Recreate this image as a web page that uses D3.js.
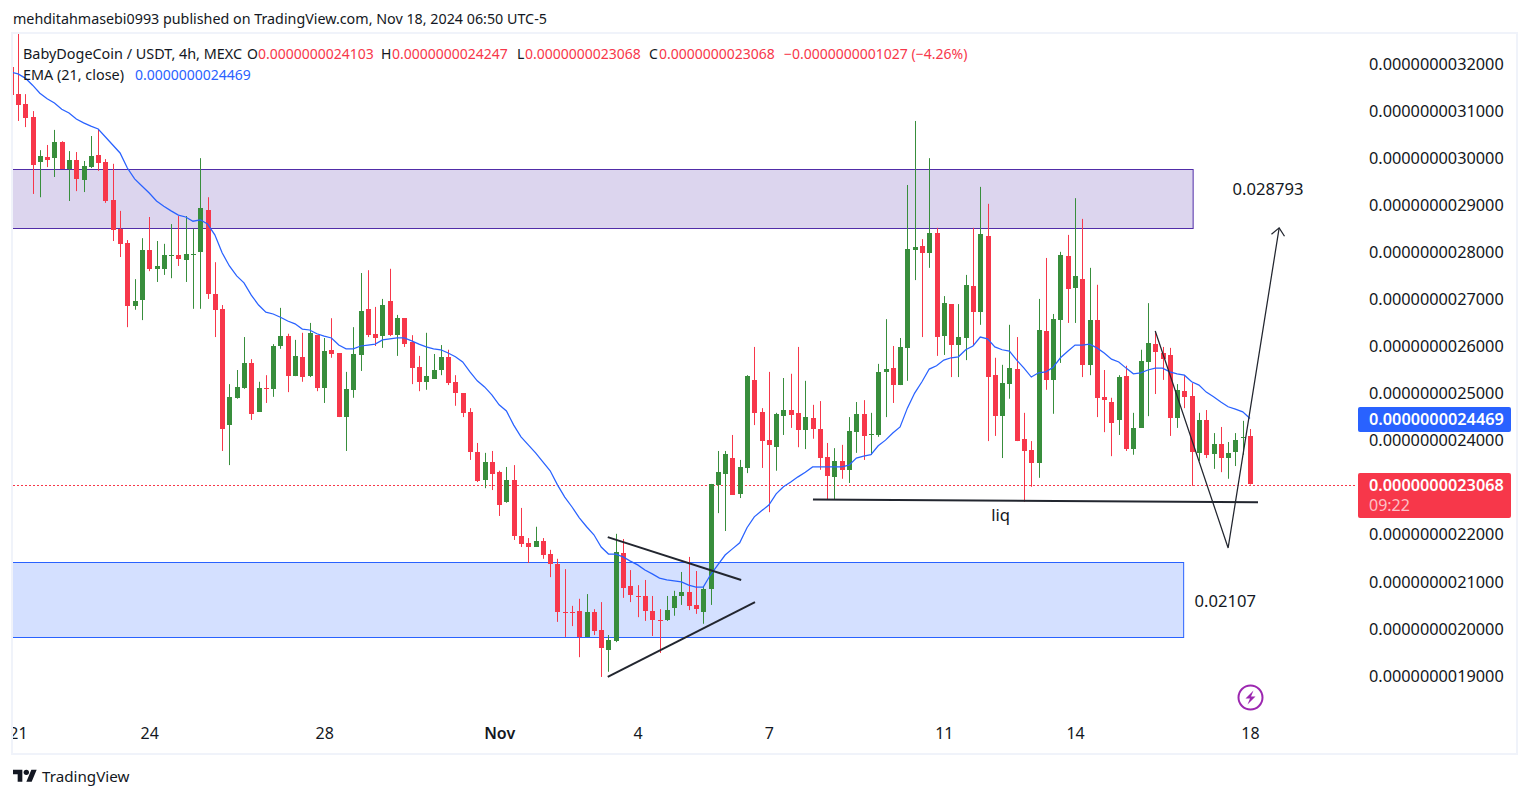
<!DOCTYPE html>
<html>
<head>
<meta charset="utf-8">
<script src="https://cdn.jsdelivr.net/npm/d3@7"></script>
<style>
html, body { margin: 0; padding: 0; background: #fff; }
svg { display: block; }
text { font-family: "Noto Sans", sans-serif; fill: #131722; }
</style>
</head>
<body>
<div id="chart"></div>
<script>
// prices are in units of 1e-13 USDT, [open, high, low, close], first bar is cut off by the pane edge
var candles = [
[31940,31940,31340,31340],
[31360,32640,30790,31130],[31150,31360,30660,30850],[30870,31000,29240,29850],[29920,30170,29170,30050],[30030,30280,29810,29960],
[30000,30600,29600,30340],[30340,30360,29770,29770],[29770,30150,29090,29960],[29960,30130,29300,29560],[29540,29940,29280,29830],
[29810,30470,29790,30050],[30070,30620,29730,29900],[29920,29980,29050,29090],[29110,29880,28240,28470],[28500,28880,27900,28180],
[28200,28260,26410,26860],[26860,27430,26780,26970],[26990,28300,26560,28050],[28050,28750,27600,27650],[27650,28240,27370,27710],
[27650,28180,27520,27940],[27920,28600,27450,27940],[27940,28770,27710,27860],[27840,28770,27370,27960],[27940,28500,26800,27960],
[28010,30000,26800,28940],[28900,29170,27010,27110],[27110,27790,26200,26780],[26800,26880,23780,24250],[24330,25200,23480,24930],
[24910,25500,24890,25140],[25120,26200,25100,25650],[25650,25730,24440,24570],[24610,25250,24610,25120],[25120,25390,24800,25100],
[25100,26050,24930,26010],[26010,26820,25950,26220],[26220,26270,25030,25370],[25370,26140,25370,25800],[25780,26290,25250,25350],
[25370,26500,25350,26290],[26240,26240,25050,25120],[25120,26180,24800,25900],[25930,26600,25760,25840],[25860,25860,24500,24500],
[24500,25460,23780,25100],[25080,26410,24910,25840],[25820,27560,25480,26750],[26800,27620,26200,26240],[26270,26840,26010,26180],
[26220,27010,25970,26880],[26970,27650,26220,26240],[26240,26670,25800,26600],[26600,26600,25990,26050],[26100,26240,25200,25540],
[25560,25800,25050,25250],[25250,26290,25080,25370],[25310,25840,25310,25500],[25500,26030,25390,25780],[25780,25930,25180,25220],
[25250,25390,24740,25010],[25010,25010,24500,24590],[24610,24690,23590,23760],[23760,23950,23120,23140],[23160,23740,22990,23550],
[23550,23780,22950,23290],[23330,23360,22400,22630],[22700,23440,22680,23160],[23160,23480,21890,21970],[21970,22570,21740,21800],
[21830,21930,21400,21740],[21740,22170,21740,21870],[21870,21930,21490,21570],[21590,21680,21100,21380],[21380,21490,20150,20360],
[20360,21270,19830,20340],[20360,20490,20060,20340],[20380,20640,19400,19830],[19830,20740,19830,20360],[20360,20420,19870,19960],
[19980,20570,18980,19600],[19550,19870,19090,19770],[19740,22020,19720,21640],[21610,21910,20660,20870],[20910,21250,20570,20720],
[20700,20930,20250,20680],[20700,21040,20170,20380],[20380,20700,19850,20190],[20190,20420,19490,20170],[20190,20700,20170,20400],
[20450,20810,20280,20700],[20700,21210,20510,20790],[20790,21530,20400,20490],[20510,21230,20320,20420],[20360,20910,20110,20850],
[20850,23080,20510,23080],[23060,23780,22460,23330],[23290,23780,22080,23720],[23630,24120,22850,22850],[22870,23590,22780,23440],
[23420,25390,23310,25370],[25290,25990,24330,24590],[24610,24690,23420,23990],[24010,25460,22480,23910],[23860,24590,23360,24570],
[24520,25330,24120,24650],[24650,25420,24270,24540],[24590,25990,23860,24230],[24230,25270,23820,24500],[24480,24760,24040,24250],
[24250,24840,23380,23630],[23650,23950,22740,23250],[23230,23840,22740,23570],[23570,23910,23190,23380],[23380,24500,23100,24200],
[24180,24820,23740,24570],[24570,24860,23590,24100],[24120,24590,23700,24140],[24120,25630,24080,25460],[25460,26580,24500,25520],
[25540,26010,24800,25180],[25180,26180,25180,25990],[25970,29430,25270,28070],[28050,30790,27410,28110],[28130,28280,26200,27990],
[27990,30000,27670,28410],[28410,28520,25800,26200],[26220,27070,25820,26920],[26900,26900,25350,26030],[26030,26900,25350,26200],
[26180,27520,25710,27310],[27290,28520,26030,26730],[26730,29390,26460,28390],[28350,29030,23990,25350],[25390,25760,24100,24520],
[24520,25610,23630,25220],[25200,26460,24890,25540],[25520,26200,23990,23990],[24040,24590,22700,23780],[23800,23990,23020,23530],
[23530,27010,23210,26350],[26330,27880,25080,25290],[25290,26690,24570,26580],[26560,28010,25650,27940],[27920,28370,26500,27220],
[27240,29150,26500,27500],[27430,28710,25350,25610],[25610,27670,25390,26560],[26560,27310,24500,24910],[24930,25500,24180,24860],
[24820,24910,23670,24380],[24440,25390,24120,25350],[25370,25590,23780,23820],[23820,24590,23700,24270],[24270,25930,24270,25690],
[25670,26920,24520,26070],[26050,26330,24990,25880],[25860,25990,25290,25730],[25820,25970,24100,24480],[24480,25200,24270,25080],
[25050,25370,24690,24930],[24950,25220,23040,23760],[23740,24590,23570,24440],[24440,24650,23630,23700],[23720,24160,23400,23930],
[23930,24290,23330,23630],[23630,23970,23190,23740],[23760,24160,23460,24010],[24060,24420,23700,24080],[24103,24247,23068,23068]
];

var ema = [
31830,31790,31700,31550,31380,31260,31170,31040,30960,30830,30750,30680,30620,30450,30280,30110,29790,29560,29410,29260,29090,
28980,28880,28790,28750,28660,28690,28600,28370,27990,27710,27500,27350,27090,26880,26730,26690,26620,26540,26480,26370,26350,
26270,26220,26180,26030,25950,25950,26010,26030,26050,26140,26160,26180,26180,26120,26050,25990,25950,25930,25860,25780,25670,
25460,25270,25140,24970,24760,24630,24330,24080,23910,23740,23550,23360,23060,22800,22590,22360,22170,22000,21740,21590,21590,
21530,21440,21360,21250,21170,21080,21040,21020,21000,20930,20890,20890,21150,21360,21570,21700,21830,22150,22380,22510,22630,
22870,23020,23120,23230,23330,23440,23440,23440,23440,23440,23480,23630,23670,23700,23890,24010,24160,24290,24690,25010,25250,
25520,25590,25710,25760,25780,25930,26010,26200,26160,25990,25930,25900,25710,25540,25350,25440,25460,25560,25760,25900,26030,
26030,26050,25970,25860,25730,25670,25540,25420,25440,25500,25540,25540,25460,25420,25390,25250,25180,25030,24930,24820,24720,
24670,24610,24469
];

var priceTicks = [32000,31000,30000,29000,28000,27000,26000,25000,24000,22000,21000,20000,19000];
var dayTicks = [0,18,42,66,85,103,127,145,169];
var dayLabels = ["21","24","28","Nov","4","7","11","14","18"];

// drawings, as [bar, price]
var purpleZone = {from: -5, to: 161.2, top: 29760, bottom: 28510};
var blueZone = {from: -5, to: 159.9, top: 21420, bottom: 19830};
var upperLine = [[80.9,21950],[99.2,21040]];
var lowerLine = [[80.9,18980],[101.1,20570]];
var liqLine = [[109.05,22750],[170.1,22690]];
var zigzag = [[156,26330],[166,21720],[173,28520]];
var notes = [
	{text: "0.028793", bar: 166.6, price: 29210},
	{text: "0.02107", bar: 161.4, price: 20470},
	{text: "liq", bar: 133.5, price: 22290}
];

var lastPrice = 23068, lastEma = 24469;
var up = "#388e3c", down = "#f7374a", blue = "#2962ff", ink = "#131722", pen = "#22262f";

var width = 1530, height = 798;
var pane = {left: 13, right: 1516, top: 34, bottom: 753};

var svg = d3.select("#chart").append("svg")
	.attr("width", width)
	.attr("height", height)
	.style("background", "#fff");

var x = d3.scaleLinear().domain([0, 169]).range([18, 1250]),
	y = d3.scaleLinear().domain([19000, 32000]).range([676, 64]);

svg.append("clipPath").attr("id", "pane")
	.append("rect")
	.attr("x", pane.left)
	.attr("y", pane.top)
	.attr("width", pane.right - pane.left)
	.attr("height", pane.bottom - pane.top);

function fmt(p){ return (p * 1e-13).toFixed(13); }

// frame
svg.append("rect")
	.attr("x", pane.left - 1)
	.attr("y", pane.top - 1)
	.attr("width", pane.right - pane.left + 2)
	.attr("height", pane.bottom - pane.top + 2)
	.attr("fill", "none")
	.attr("stroke", "#f0f3fa")
	.attr("stroke-width", 2);

var plot = svg.append("g").attr("clip-path", "url(#pane)");

function drawZone(z, stroke, fill){
	plot.append("rect")
		.attr("x", x(z.from))
		.attr("y", Math.round(y(z.top)) + 0.5)
		.attr("width", x(z.to) - x(z.from))
		.attr("height", Math.round(y(z.bottom)) - Math.round(y(z.top)))
		.attr("fill", fill)
		.attr("stroke", stroke);
}
drawZone(purpleZone, "#512da8", "rgba(81,45,168,0.2)");
drawZone(blueZone, "#2962ff", "rgba(41,98,255,0.2)");

// last price dotted line
plot.append("line")
	.attr("x1", pane.left)
	.attr("x2", 1356)
	.attr("y1", Math.ceil(y(lastPrice)) + 0.5)
	.attr("y2", Math.ceil(y(lastPrice)) + 0.5)
	.attr("stroke", down)
	.attr("stroke-dasharray", "2,2");

// candles
var bars = plot.append("g").selectAll("g")
	.data(candles).enter()
	.append("g")
	.attr("fill", function(d){ return d[3] >= d[0] ? up : down; });

bars.append("rect")
	.attr("x", function(d, i){ return Math.round(x(i - 1)); })
	.attr("y", function(d){ return y(d[1]); })
	.attr("width", 1)
	.attr("height", function(d){ return y(d[2]) - y(d[1]); });

bars.append("rect")
	.attr("x", function(d, i){ return Math.round(x(i - 1)) - 2; })
	.attr("y", function(d){ return Math.round(y(Math.max(d[0], d[3]))); })
	.attr("width", 5)
	.attr("height", function(d){ return Math.max(1, Math.round(y(Math.min(d[0], d[3]))) - Math.round(y(Math.max(d[0], d[3])))); });

// EMA
var emaLine = d3.line()
	.x(function(d, i){ return x(i - 1); })
	.y(function(d){ return y(d); });

plot.append("path")
	.attr("d", emaLine(ema))
	.attr("fill", "none")
	.attr("stroke", blue)
	.attr("stroke-width", 1.25);

// hand drawn lines
var drawn = d3.line()
	.x(function(d){ return x(d[0]); })
	.y(function(d){ return y(d[1]); });

[upperLine, lowerLine, liqLine].forEach(function(l){
	plot.append("path")
		.attr("d", drawn(l))
		.attr("fill", "none")
		.attr("stroke", pen)
		.attr("stroke-width", 2);
});

plot.append("path")
	.attr("d", drawn(zigzag))
	.attr("fill", "none")
	.attr("stroke", pen)
	.attr("stroke-width", 1.25);

// arrow head on the last zigzag point
var tip = zigzag[2], prev = zigzag[1];
var ang = Math.atan2(y(tip[1]) - y(prev[1]), x(tip[0]) - x(prev[0]));
var arm = 10, spread = 0.72;
plot.append("path")
	.attr("d", "M" + (x(tip[0]) + arm * Math.cos(ang + Math.PI - spread)) + "," + (y(tip[1]) + arm * Math.sin(ang + Math.PI - spread))
		+ "L" + x(tip[0]) + "," + y(tip[1])
		+ "L" + (x(tip[0]) + arm * Math.cos(ang + Math.PI + spread)) + "," + (y(tip[1]) + arm * Math.sin(ang + Math.PI + spread)))
	.attr("fill", "none")
	.attr("stroke", pen)
	.attr("stroke-width", 1.25);

plot.selectAll("text.note")
	.data(notes).enter()
	.append("text")
	.attr("class", "note")
	.attr("x", function(d){ return x(d.bar); })
	.attr("y", function(d){ return y(d.price); })
	.attr("font-size", 16.6)
	.text(function(d){ return d.text; });

// price axis
var yAxis = svg.append("g")
	.attr("transform", "translate(1369,0)")
	.call(d3.axisRight(y).tickValues(priceTicks).tickSize(0).tickPadding(0).tickFormat(fmt));
yAxis.select(".domain").remove();
yAxis.selectAll("text")
	.attr("font-size", 16.3)
	.attr("font-family", "'Noto Sans', sans-serif")
	.attr("fill", ink);

// time axis
var xAxis = svg.append("g")
	.attr("clip-path", "url(#pane)")
	.append("g")
	.attr("transform", "translate(0,728)")
	.call(d3.axisBottom(x).tickValues(dayTicks).tickSize(0).tickPadding(0).tickFormat(function(d, i){ return dayLabels[i]; }));
xAxis.select(".domain").remove();
xAxis.selectAll("text")
	.attr("font-size", 16)
	.attr("font-family", "'Noto Sans', sans-serif")
	.attr("font-weight", function(d, i){ return dayLabels[i] == "Nov" ? 600 : 400; })
	.attr("fill", ink);

// price labels
function priceLabel(p, fill, h, top){
	svg.append("rect")
		.attr("x", 1358)
		.attr("y", top)
		.attr("width", 153)
		.attr("height", h)
		.attr("rx", 2)
		.attr("fill", fill);
	svg.append("text")
		.attr("x", 1369)
		.attr("y", top + 18)
		.attr("font-size", 16.3)
		.attr("font-weight", 600)
		.style("fill", "#fff")
		.text(fmt(p));
}
priceLabel(lastEma, blue, 25, 407);
priceLabel(lastPrice, down, 45, 473);
svg.append("text")
	.attr("x", 1369)
	.attr("y", 511)
	.attr("font-size", 16)
	.style("fill", "rgba(255,255,255,0.7)")
	.text("09:22");

// header and legend
svg.append("text")
	.attr("x", 13)
	.attr("y", 24)
	.attr("font-size", 14.3)
	.text("mehditahmasebi0993 published on TradingView.com, Nov 18, 2024 06:50 UTC-5");

var legend = [
	{x: 23, y: 59, text: "BabyDogeCoin / USDT, 4h, MEXC", c: ink},
	{x: 247, y: 59, text: "O", c: ink},
	{x: 258, y: 59, text: fmt(24103), c: down},
	{x: 381, y: 59, text: "H", c: ink},
	{x: 392, y: 59, text: fmt(24247), c: down},
	{x: 517, y: 59, text: "L", c: ink},
	{x: 525, y: 59, text: fmt(23068), c: down},
	{x: 649, y: 59, text: "C", c: ink},
	{x: 659, y: 59, text: fmt(23068), c: down},
	{x: 784, y: 59, text: "\u2212" + fmt(1027) + " (\u22124.26%)", c: down},
	{x: 23, y: 80, text: "EMA (21, close)", c: ink},
	{x: 135, y: 80, text: fmt(lastEma), c: blue}
];
svg.selectAll("text.legend")
	.data(legend).enter()
	.append("text")
	.attr("class", "legend")
	.attr("x", function(d){ return d.x; })
	.attr("y", function(d){ return d.y; })
	.attr("font-size", function(d){ return d.c == ink && d.x < 30 ? 14.4 : 14; })
	.style("fill", function(d){ return d.c; })
	.text(function(d){ return d.text; });

// lightning badge
var bolt = svg.append("g").attr("transform", "translate(1250.5,697.5)");
bolt.append("circle")
	.attr("r", 12)
	.attr("fill", "#fff")
	.attr("stroke", "#9c27b0")
	.attr("stroke-width", 2);
bolt.append("path")
	.attr("d", "M3,-7L-5,1H-0.5L-3,7L5,-1H0.5Z")
	.attr("fill", "#9c27b0");

// TradingView logo
svg.append("path")
	.attr("transform", "translate(13,767) scale(0.667)")
	.attr("d", "M14 22H7V11H0V4h14v18zM28 22h-8l7.5-18h8L28 22z")
	.attr("fill", ink);
svg.append("circle")
	.attr("cx", 13 + 20 * 0.667)
	.attr("cy", 767 + 8 * 0.667)
	.attr("r", 4 * 0.667)
	.attr("fill", ink);
svg.append("text")
	.attr("x", 42)
	.attr("y", 782)
	.attr("font-size", 15.2)
	.attr("fill", ink)
	.text("TradingView");
</script>
</body>
</html>
